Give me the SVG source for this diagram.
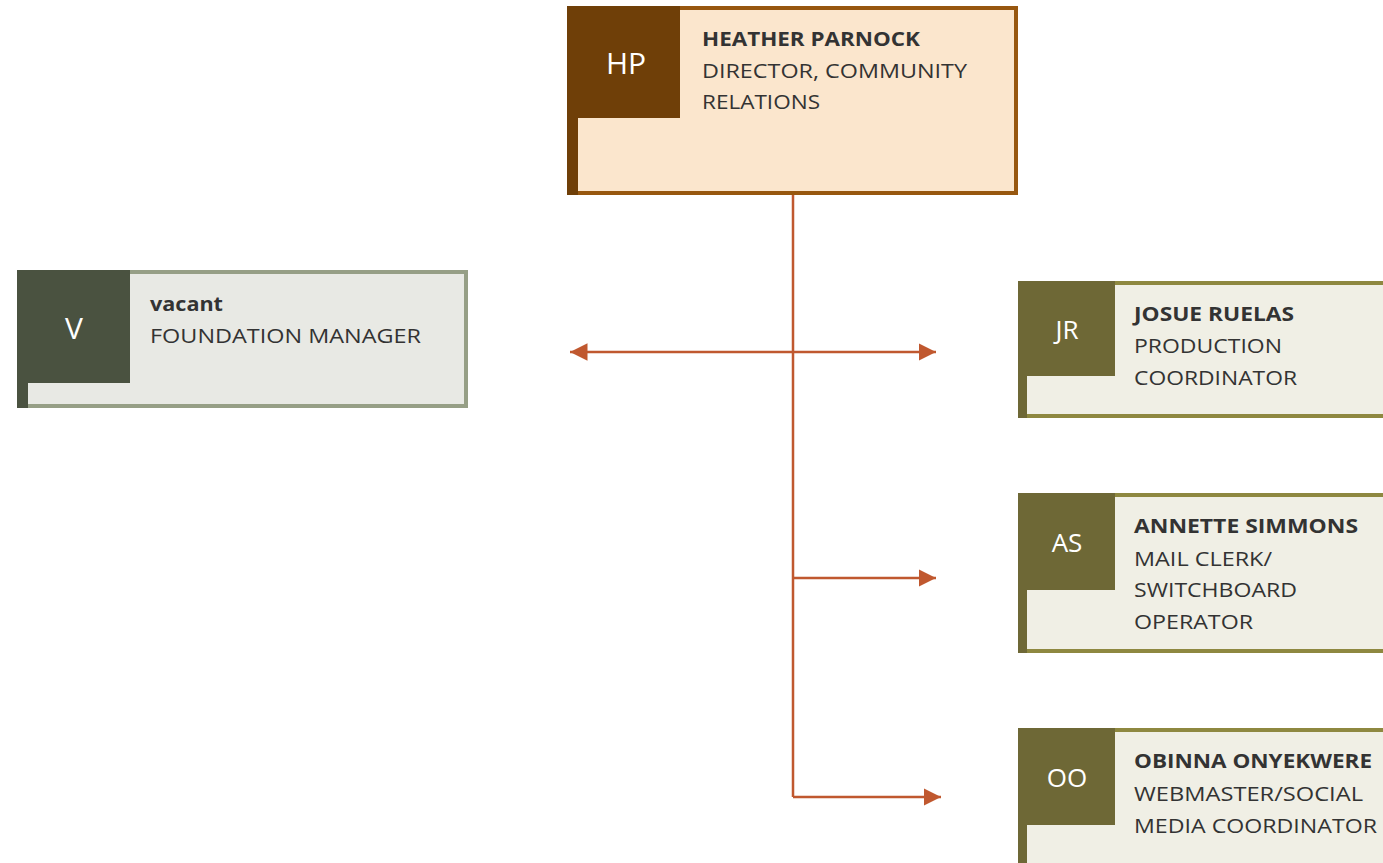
<svg xmlns="http://www.w3.org/2000/svg" width="1383" height="863" viewBox="0 0 1383 863">
<style>
.t{font-family:"Open Sans","Liberation Sans",sans-serif;font-size:20px;fill:#333333}
.b{font-weight:bold}
.ini{font-family:"Open Sans","Liberation Sans",sans-serif;fill:#ffffff;text-anchor:middle}
.conn{stroke:#C0582F;stroke-width:2.5;fill:none}
</style>
<defs>
<marker id="ah" viewBox="0 0 10 10" refX="10" refY="5" markerWidth="7" markerHeight="7" orient="auto-start-reverse" markerUnits="strokeWidth">
<path d="M0,0 L10,5 L0,10 z" fill="#C0582F"/>
</marker>
</defs>
<rect width="1383" height="863" fill="#ffffff"/>
<g id="connectors">
<path class="conn" d="M793,195 V797"/>
<path class="conn" d="M570,352 H936" marker-start="url(#ah)" marker-end="url(#ah)"/>
<path class="conn" d="M793,578 H936" marker-end="url(#ah)"/>
<path class="conn" d="M793,797 H941" marker-end="url(#ah)"/>
</g>
<g id="node-hp">
<rect x="569" y="8" width="447" height="185" fill="#FBE6CD" stroke="#97570F" stroke-width="4"/>
<rect x="567" y="6" width="113" height="112" fill="#6F3F08"/>
<rect x="567" y="6" width="11" height="189" fill="#6F3F08"/>
<text class="ini" x="626" y="74" font-size="30">HP</text>
<text class="t b" x="702" y="46" textLength="218" lengthAdjust="spacingAndGlyphs">HEATHER PARNOCK</text>
<text class="t" x="702" y="78" textLength="265" lengthAdjust="spacingAndGlyphs">DIRECTOR, COMMUNITY</text>
<text class="t" x="702" y="109" textLength="118" lengthAdjust="spacingAndGlyphs">RELATIONS</text>
</g>
<g id="node-v">
<rect x="19" y="272" width="447" height="134" fill="#E8E9E4" stroke="#969F86" stroke-width="4"/>
<rect x="17" y="270" width="113" height="113" fill="#4A5240"/>
<rect x="17" y="270" width="11" height="138" fill="#4A5240"/>
<text class="ini" x="74" y="339" font-size="30">V</text>
<text class="t b" x="150" y="311" textLength="73" lengthAdjust="spacingAndGlyphs">vacant</text>
<text class="t" x="150" y="343" textLength="271" lengthAdjust="spacingAndGlyphs">FOUNDATION MANAGER</text>
</g>
<g id="node-jr">
<rect x="1020" y="283" width="380" height="133" fill="#F0EFE5" stroke="#8E8840" stroke-width="4"/>
<rect x="1018" y="281" width="97" height="95" fill="#6E6836"/>
<rect x="1018" y="281" width="9" height="137" fill="#6E6836"/>
<text class="ini" x="1067" y="339" font-size="26">JR</text>
<text class="t b" x="1134" y="321" textLength="160" lengthAdjust="spacingAndGlyphs">JOSUE RUELAS</text>
<text class="t" x="1134" y="353" textLength="148" lengthAdjust="spacingAndGlyphs">PRODUCTION</text>
<text class="t" x="1134" y="385" textLength="163" lengthAdjust="spacingAndGlyphs">COORDINATOR</text>
</g>
<g id="node-as">
<rect x="1020" y="495" width="380" height="156" fill="#F0EFE5" stroke="#8E8840" stroke-width="4"/>
<rect x="1018" y="493" width="97" height="97" fill="#6E6836"/>
<rect x="1018" y="493" width="9" height="160" fill="#6E6836"/>
<text class="ini" x="1067" y="552" font-size="26">AS</text>
<text class="t b" x="1134" y="533" textLength="224" lengthAdjust="spacingAndGlyphs">ANNETTE SIMMONS</text>
<text class="t" x="1134" y="566" textLength="138" lengthAdjust="spacingAndGlyphs">MAIL CLERK/</text>
<text class="t" x="1134" y="597" textLength="163" lengthAdjust="spacingAndGlyphs">SWITCHBOARD</text>
<text class="t" x="1134" y="629" textLength="119" lengthAdjust="spacingAndGlyphs">OPERATOR</text>
</g>
<g id="node-oo">
<rect x="1020" y="730" width="380" height="150" fill="#F0EFE5" stroke="#8E8840" stroke-width="4"/>
<rect x="1018" y="728" width="97" height="97" fill="#6E6836"/>
<rect x="1018" y="728" width="9" height="140" fill="#6E6836"/>
<text class="ini" x="1067" y="787" font-size="26">OO</text>
<text class="t b" x="1134" y="768" textLength="238" lengthAdjust="spacingAndGlyphs">OBINNA ONYEKWERE</text>
<text class="t" x="1134" y="801" textLength="229" lengthAdjust="spacingAndGlyphs">WEBMASTER/SOCIAL</text>
<text class="t" x="1134" y="833" textLength="243" lengthAdjust="spacingAndGlyphs">MEDIA COORDINATOR</text>
</g>
</svg>
